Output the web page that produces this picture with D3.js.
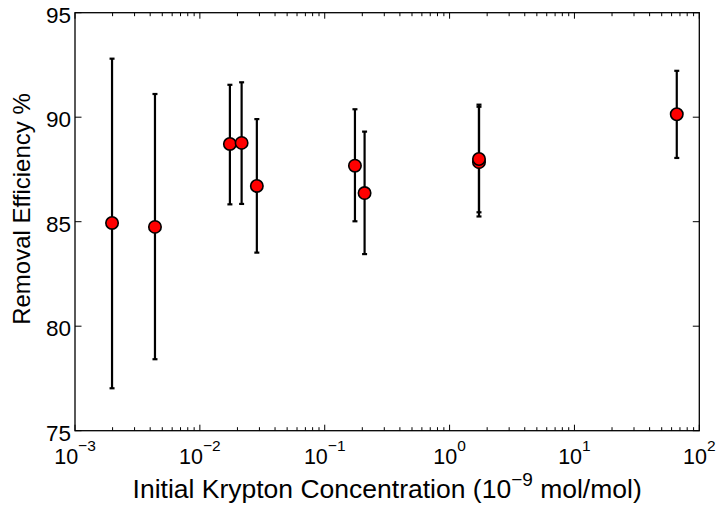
<!DOCTYPE html>
<html>
<head>
<script src="https://cdn.jsdelivr.net/npm/d3@7"></script>
<style>
  body { margin: 0; background: #fff; }
  text { font-family: "Liberation Sans", Arial, sans-serif; fill: #000; }
</style>
</head>
<body>
<script>
// initial Kr concentration (1e-9 mol/mol) and removal efficiency (%)
var conc    = [0.00198, 0.00437, 0.0174, 0.0216, 0.0286, 0.1746, 0.2086, 1.72, 1.72, 66];
var eff     = [84.94, 84.75, 88.72, 88.77, 86.71, 87.68, 86.37, 87.85, 88.0, 90.14];
var errLow  = [77.03, 78.42, 85.83, 85.85, 83.52, 85.02, 83.45, 85.25, 85.45, 88.05];
var errHigh = [92.80, 91.11, 91.55, 91.67, 89.91, 90.38, 89.31, 90.50, 90.60, 92.22];

var xTickExp = [-3, -2, -1, 0, 1, 2];
var yTicks = [75, 80, 85, 90, 95];

var W = 719, H = 506;
var pL = 75, pR = 699.3, pT = 12.7, pB = 430.7;

var svg = d3.select("body").append("svg")
    .attr("width", W)
    .attr("height", H);

var x = d3.scaleLog().domain([1e-3, 1e2]).range([pL, pR]);
var y = d3.scaleLinear().domain([75, 95]).range([pB, pT]);

// minor ticks 2..9 per decade
var minor = [];
xTickExp.slice(0, -1).forEach(function(e) {
  for (var k = 2; k <= 9; k++) minor.push(k * Math.pow(10, e));
});

var ticks = svg.append("g").attr("stroke", "#000").attr("stroke-width", 1);

xTickExp.forEach(function(e) {
  var px = x(Math.pow(10, e));
  ticks.append("line").attr("x1", px).attr("x2", px).attr("y1", pB).attr("y2", pB - 6);
  ticks.append("line").attr("x1", px).attr("x2", px).attr("y1", pT).attr("y2", pT + 6);
});
minor.forEach(function(v) {
  var px = x(v);
  ticks.append("line").attr("x1", px).attr("x2", px).attr("y1", pB).attr("y2", pB - 3.5);
  ticks.append("line").attr("x1", px).attr("x2", px).attr("y1", pT).attr("y2", pT + 3.5);
});
yTicks.forEach(function(v) {
  var py = y(v);
  ticks.append("line").attr("x1", pL).attr("x2", pL + 6.5).attr("y1", py).attr("y2", py);
  ticks.append("line").attr("x1", pR).attr("x2", pR - 6.5).attr("y1", py).attr("y2", py);
});

// frame
svg.append("rect")
    .attr("x", pL).attr("y", pT)
    .attr("width", pR - pL).attr("height", pB - pT)
    .attr("fill", "none").attr("stroke", "#000").attr("stroke-width", 1.3);

// y tick labels
svg.append("g").selectAll("text")
    .data(yTicks)
    .enter().append("text")
    .attr("x", pL - 4)
    .attr("y", function(d) { return y(d) + 10; })
    .attr("text-anchor", "end")
    .attr("font-size", "22.5px")
    .text(function(d) { return d; });

// x tick labels 10^e
var xl = svg.append("g").selectAll("text")
    .data(xTickExp)
    .enter().append("text")
    .attr("x", function(e) { return x(Math.pow(10, e)); })
    .attr("y", 464)
    .attr("text-anchor", "middle")
    .attr("font-size", "21.5px");
xl.append("tspan").text("10");
xl.append("tspan")
    .attr("dy", -13)
    .attr("font-size", "15.5px")
    .text(function(e) { return e < 0 ? "\u2212" + (-e) : e; });

// axis labels
var xlab = svg.append("text")
    .attr("x", (pL + pR) / 2)
    .attr("y", 498)
    .attr("text-anchor", "middle")
    .attr("font-size", "26.5px");
xlab.append("tspan").text("Initial Krypton Concentration (10");
xlab.append("tspan").attr("dy", -12).attr("font-size", "19px").text("\u22129");
xlab.append("tspan").attr("dy", 12).text(" mol/mol)");

svg.append("text")
    .attr("transform", "translate(30,209) rotate(-90)")
    .attr("text-anchor", "middle")
    .attr("font-size", "24px")
    .text("Removal Efficiency %");

// error bars
var idx = d3.range(conc.length);
var eb = svg.append("g").attr("stroke", "#000").attr("stroke-width", 2.2);
eb.selectAll(".v").data(idx).enter().append("line")
    .attr("x1", function(i) { return x(conc[i]); })
    .attr("x2", function(i) { return x(conc[i]); })
    .attr("y1", function(i) { return y(errLow[i]); })
    .attr("y2", function(i) { return y(errHigh[i]); });
[errLow, errHigh].forEach(function(arr) {
  eb.selectAll(null).data(idx).enter().append("line")
      .attr("x1", function(i) { return x(conc[i]) - 2.5; })
      .attr("x2", function(i) { return x(conc[i]) + 2.5; })
      .attr("y1", function(i) { return y(arr[i]); })
      .attr("y2", function(i) { return y(arr[i]); });
});

// markers
svg.append("g").selectAll("circle")
    .data(idx)
    .enter().append("circle")
    .attr("cx", function(i) { return x(conc[i]); })
    .attr("cy", function(i) { return y(eff[i]); })
    .attr("r", 6.2)
    .attr("fill", "#ff0000")
    .attr("stroke", "#000")
    .attr("stroke-width", 1.6);
</script>
</body>
</html>
